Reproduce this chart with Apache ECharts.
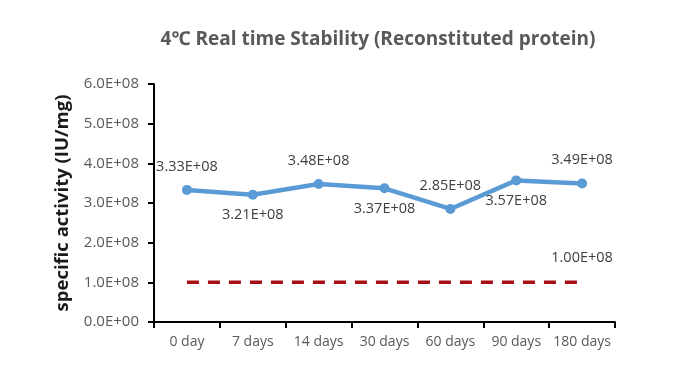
<!DOCTYPE html>
<html><head><meta charset="utf-8">
<script src="https://cdn.jsdelivr.net/npm/echarts@6/dist/echarts.min.js"></script>
<style>html,body{margin:0;padding:0;background:#fff}#c{width:676px;height:372px}</style>
</head><body><div id="c"></div>
<script>
const categories = ['0 day','7 days','14 days','30 days','60 days','90 days','180 days'];
const activity = [3.33e8, 3.21e8, 3.48e8, 3.37e8, 2.85e8, 3.57e8, 3.49e8];
const limit = [1e8, 1e8, 1e8, 1e8, 1e8, 1e8, 1e8];
const yTicks = [0, 1e8, 2e8, 3e8, 4e8, 5e8, 6e8];
const labelSides = ['top','bottom','top','bottom','top','bottom','top'];

const FONT = '"Open Sans", "Noto Sans", sans-serif';
function sci(v, d) {
  if (v === 0) return (0).toFixed(d) + 'E+00';
  const e = Math.floor(Math.log10(Math.abs(v)) + 1e-9);
  const m = v / Math.pow(10, e);
  return m.toFixed(d) + 'E+' + String(e).padStart(2, '0');
}
const chart = echarts.init(document.getElementById('c'), null, {renderer: 'canvas'});
chart.setOption({
  animation: false,
  backgroundColor: '#ffffff',
  title: {
    text: '4℃ Real time Stability (Reconstituted protein)',
    left: 373, top: 25, textAlign: 'center',
    textStyle: {fontFamily: FONT, fontSize: 19, fontWeight: 'bold', color: '#595959'}
  },
  grid: {left: 154, right: 61, top: 84, bottom: 50, containLabel: false},
  xAxis: {
    type: 'category', data: categories, boundaryGap: true,
    axisLine: {lineStyle: {color: '#000', width: 2}},
    axisTick: {show: true, inside: false, length: 6, interval: 0, lineStyle: {color: '#000', width: 2}},
    axisLabel: {interval: 0, fontFamily: FONT, fontSize: 14, color: '#595959', margin: 13},
    splitLine: {show: false}
  },
  yAxis: {
    type: 'value', min: yTicks[0], max: yTicks[yTicks.length - 1], interval: yTicks[1] - yTicks[0],
    name: 'specific activity (IU/mg)', nameLocation: 'middle', nameGap: 82, nameRotate: 90,
    nameTextStyle: {fontFamily: FONT, fontSize: 18.5, fontWeight: 'bold', color: '#1a1a1a'},
    axisLine: {show: true, lineStyle: {color: '#000', width: 2}},
    axisTick: {show: true, inside: false, length: 6, lineStyle: {color: '#000', width: 2}},
    axisLabel: {fontFamily: FONT, fontSize: 15, color: '#595959', margin: 15, formatter: v => sci(v, 1)},
    splitLine: {show: false}
  },
  series: [
    {
      type: 'line',
      data: activity.map((v, i) => ({value: v, label: {position: labelSides[i], distance: labelSides[i] === 'top' ? 11 : 8}})),
      symbol: 'circle', symbolSize: 10, showSymbol: true,
      lineStyle: {color: '#5B9BD5', width: 4.5},
      itemStyle: {color: '#5B9BD5'},
      label: {show: true, fontFamily: FONT, fontSize: 14.5, color: '#404040', formatter: p => sci(p.value, 2)},
      z: 3
    },
    {
      type: 'line', data: limit.map((v, i) => ({value: v, label: {show: i === limit.length - 1}})),
      symbol: 'circle', symbolSize: 2, showSymbol: true,
      lineStyle: {color: '#A50F15', width: 3.5, type: [12, 9]},
      itemStyle: {color: 'rgba(0,0,0,0)', borderWidth: 0},
      label: {show: false, position: 'top', distance: 16, fontFamily: FONT, fontSize: 14.5, color: '#404040', formatter: p => sci(p.value, 2)},
      z: 2
    }
  ]
});
</script></body></html>
